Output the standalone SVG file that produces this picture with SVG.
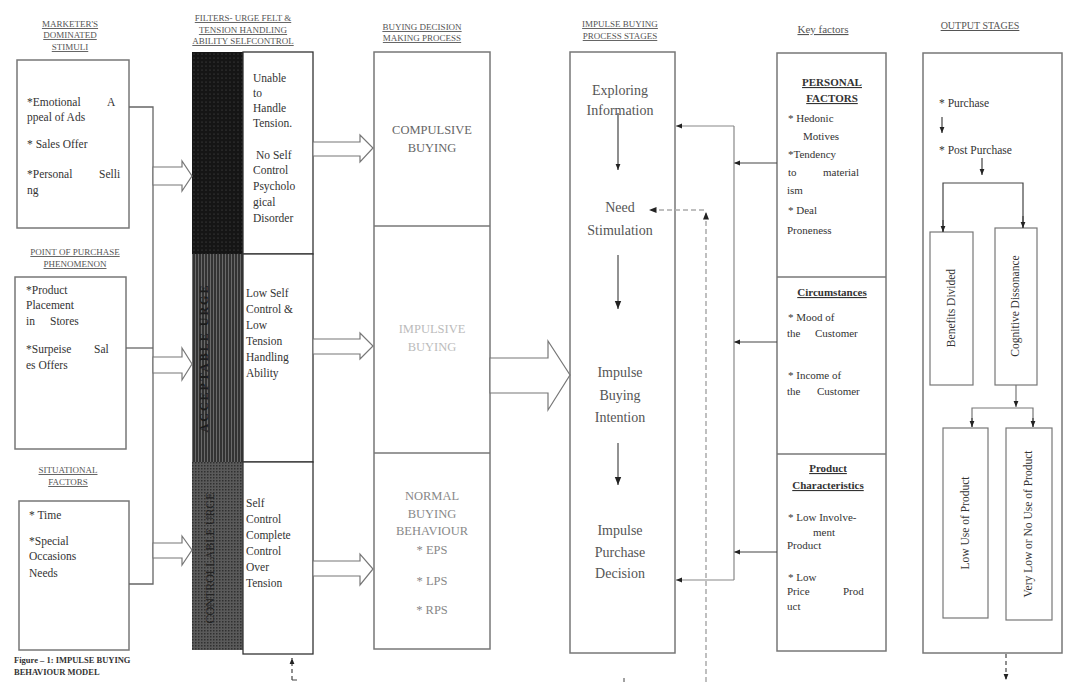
<svg xmlns="http://www.w3.org/2000/svg" width="1065" height="682" viewBox="0 0 1065 682">
<style>
text{font-family:"Liberation Serif","Times New Roman",serif;fill:#333}
.hd{font-size:9px;fill:#555;text-anchor:middle;text-decoration:underline}
.lt{font-size:11.5px}
.ft{font-size:11.5px;fill:#333}
.st{font-size:14px;fill:#555;text-anchor:middle}
.dc{font-size:12.5px;text-anchor:middle}
.kf{font-size:11px;fill:#333}
.kh{font-size:11px;font-weight:bold;text-anchor:middle;text-decoration:underline;fill:#333}
.box{fill:#fff;stroke:#777;stroke-width:1.5}
.wb{fill:#fff;stroke:#333;stroke-width:1.3}
.ln{fill:none;stroke:#666;stroke-width:1.3}
.ka{fill:none;stroke:#444;stroke-width:1.2}
.blk{fill:#fff;stroke:#777;stroke-width:1.2}
.dash{fill:none;stroke:#aaa;stroke-width:1.5;stroke-dasharray:5,3}
.rot{font-size:11.5px;text-anchor:middle;dominant-baseline:middle;fill:#333}
</style>
<defs>
<pattern id="pTop" width="4" height="4" patternUnits="userSpaceOnUse"><rect width="4" height="4" fill="#151515"/><circle cx="2" cy="2" r="0.6" fill="#555"/></pattern>
<pattern id="pMid" width="3" height="3" patternUnits="userSpaceOnUse"><rect width="3" height="3" fill="#333"/><rect width="1" height="3" fill="#6a6a6a"/></pattern>
<pattern id="pBot" width="3" height="3" patternUnits="userSpaceOnUse"><rect width="3" height="3" fill="#5a5a5a"/><rect width="1.5" height="1.5" fill="#303030"/></pattern>
<marker id="ah" viewBox="0 0 10 10" refX="10" refY="5" markerWidth="5" markerHeight="5" orient="auto"><path d="M0,1 L10,5 L0,9 z" fill="#222"/></marker>
</defs>
<rect width="1065" height="682" fill="#fff"/>

<g id="headers">
<text class="hd" x="70" y="27">MARKETER'S</text>
<text class="hd" x="70" y="38">DOMINATED</text>
<text class="hd" x="70" y="50">STIMULI</text>
<text class="hd" x="243" y="21">FILTERS- URGE FELT &amp;</text>
<text class="hd" x="243" y="33">TENSION HANDLING</text>
<text class="hd" x="243" y="44">ABILITY  SELFCONTROL</text>
<text class="hd" x="422" y="30">BUYING DECISION</text>
<text class="hd" x="422" y="41">MAKING PROCESS</text>
<text class="hd" x="620" y="27">IMPULSE BUYING</text>
<text class="hd" x="620" y="39">PROCESS STAGES</text>
<text class="hd" x="823" y="33" style="font-size:11px">Key factors</text>
<text class="hd" x="980" y="29" style="font-size:10px">OUTPUT STAGES</text>
</g>

<g id="marketer-stimuli">
<rect class="box" x="17" y="60" width="112" height="168"/>
<text class="lt"><tspan x="27" y="106">*Emotional</tspan><tspan x="107" y="106">A</tspan></text>
<text class="lt" x="27" y="121">ppeal of Ads</text>
<text class="lt" x="27" y="148">* Sales Offer</text>
<text class="lt"><tspan x="27" y="178">*Personal</tspan><tspan x="99" y="178">Selli</tspan></text>
<text class="lt" x="27" y="194">ng</text>
</g>

<g id="point-of-purchase">
<text class="hd" x="75" y="255">POINT OF PURCHASE</text>
<text class="hd" x="75" y="267">PHENOMENON</text>
<rect class="box" x="15" y="277" width="111" height="172"/>
<text class="lt" x="26" y="294">*Product</text>
<text class="lt" x="26" y="309">Placement</text>
<text class="lt"><tspan x="26" y="325">in</tspan><tspan x="50" y="325">Stores</tspan></text>
<text class="lt"><tspan x="26" y="353">*Surpeise</tspan><tspan x="94" y="353">Sal</tspan></text>
<text class="lt" x="26" y="369">es Offers</text>
</g>

<g id="situational">
<text class="hd" x="68" y="473">SITUATIONAL</text>
<text class="hd" x="68" y="485">FACTORS</text>
<rect class="box" x="19" y="501" width="110" height="149"/>
<text class="lt" x="29" y="519">* Time</text>
<text class="lt" x="29" y="545">*Special</text>
<text class="lt" x="29" y="560">Occasions</text>
<text class="lt" x="29" y="577">Needs</text>
</g>

<g id="caption">
<text x="14" y="663" style="font-size:8.5px;font-weight:bold;fill:#333">Figure – 1:  IMPULSE BUYING</text>
<text x="14" y="675" style="font-size:8.5px;font-weight:bold;fill:#333">BEHAVIOUR MODEL</text>
</g>

<g id="filters">
<rect x="192" y="52" width="51" height="202" fill="url(#pTop)"/>
<rect x="192" y="254" width="51" height="208" fill="url(#pMid)"/>
<rect x="192" y="462" width="51" height="188" fill="url(#pBot)"/>
<text class="rot" transform="translate(205,358) rotate(-90)" style="fill:#1c1c1c;font-size:12px;font-weight:bold;letter-spacing:2px">ACCEPTABLE URGE</text>
<text class="rot" transform="translate(211,558) rotate(-90)" style="fill:#222;font-size:12px">CONTROLLABLE URGE</text>
<rect class="wb" x="243" y="52" width="70" height="202"/>
<rect class="wb" x="243" y="254" width="70" height="208"/>
<rect class="wb" x="243" y="462" width="70" height="192"/>
<text class="ft" x="253" y="82">Unable</text>
<text class="ft" x="253" y="97">to</text>
<text class="ft" x="253" y="112">Handle</text>
<text class="ft" x="253" y="127">Tension.</text>
<text class="ft" x="256" y="159">No Self</text>
<text class="ft" x="253" y="174">Control</text>
<text class="ft" x="253" y="190">Psycholo</text>
<text class="ft" x="253" y="206">gical</text>
<text class="ft" x="253" y="222">Disorder</text>
<text class="ft" x="246" y="297">Low Self</text>
<text class="ft" x="246" y="313">Control &amp;</text>
<text class="ft" x="246" y="329">Low</text>
<text class="ft" x="246" y="345">Tension</text>
<text class="ft" x="246" y="361">Handling</text>
<text class="ft" x="246" y="377">Ability</text>
<text class="ft" x="246" y="507">Self</text>
<text class="ft" x="246" y="523">Control</text>
<text class="ft" x="246" y="539">Complete</text>
<text class="ft" x="246" y="555">Control</text>
<text class="ft" x="246" y="571">Over</text>
<text class="ft" x="246" y="587">Tension</text>
</g>

<g id="decision">
<rect class="box" x="374" y="52" width="116" height="597"/>
<line class="ln" x1="374" y1="226" x2="490" y2="226" style="stroke:#777"/>
<line class="ln" x1="374" y1="453" x2="490" y2="453" style="stroke:#777"/>
<text class="dc" x="432" y="134" style="fill:#666">COMPULSIVE</text>
<text class="dc" x="432" y="152" style="fill:#666">BUYING</text>
<text class="dc" x="432" y="333" style="fill:#bbb">IMPULSIVE</text>
<text class="dc" x="432" y="351" style="fill:#bbb">BUYING</text>
<text class="dc" x="432" y="500" style="fill:#888">NORMAL</text>
<text class="dc" x="432" y="518" style="fill:#888">BUYING</text>
<text class="dc" x="432" y="535" style="fill:#888">BEHAVIOUR</text>
<text class="dc" x="432" y="554" style="fill:#888">* EPS</text>
<text class="dc" x="432" y="585" style="fill:#888">* LPS</text>
<text class="dc" x="432" y="614" style="fill:#888">* RPS</text>
</g>

<g id="impulse-stages">
<rect class="box" x="570" y="52" width="105" height="601"/>
<text class="st" x="620" y="95">Exploring</text>
<text class="st" x="620" y="115">Information</text>
<text class="st" x="620" y="212">Need</text>
<text class="st" x="620" y="235">Stimulation</text>
<text class="st" x="620" y="377">Impulse</text>
<text class="st" x="620" y="400">Buying</text>
<text class="st" x="620" y="422">Intention</text>
<text class="st" x="620" y="535">Impulse</text>
<text class="st" x="620" y="557">Purchase</text>
<text class="st" x="620" y="578">Decision</text>
</g>

<g id="key-factors">
<rect class="box" x="777" y="53" width="109" height="598"/>
<line class="ln" x1="777" y1="277" x2="886" y2="277" style="stroke:#777"/>
<line class="ln" x1="777" y1="454" x2="886" y2="454" style="stroke:#777"/>
<text class="kh" x="832" y="86">PERSONAL</text>
<text class="kh" x="832" y="102">FACTORS</text>
<text class="kf" x="788" y="122">* Hedonic</text>
<text class="kf" x="803" y="140">Motives</text>
<text class="kf" x="788" y="158">*Tendency</text>
<text class="kf"><tspan x="788" y="176">to</tspan><tspan x="823" y="176">material</tspan></text>
<text class="kf" x="787" y="194">ism</text>
<text class="kf" x="788" y="214">* Deal</text>
<text class="kf" x="787" y="234">Proneness</text>
<text class="kh" x="832" y="296">Circumstances</text>
<text class="kf" x="788" y="321">* Mood of</text>
<text class="kf"><tspan x="787" y="337">the</tspan><tspan x="815" y="337">Customer</tspan></text>
<text class="kf" x="788" y="379">* Income of</text>
<text class="kf"><tspan x="787" y="395">the</tspan><tspan x="817" y="395">Customer</tspan></text>
<text class="kh" x="828" y="472">Product</text>
<text class="kh" x="828" y="489">Characteristics</text>
<text class="kf" x="788" y="521">* Low Involve-</text>
<text class="kf" x="813" y="536">ment</text>
<text class="kf" x="787" y="549">Product</text>
<text class="kf" x="788" y="581">* Low</text>
<text class="kf"><tspan x="787" y="595">Price</tspan><tspan x="843" y="595">Prod</tspan></text>
<text class="kf" x="787" y="610">uct</text>
</g>

<g id="output-stages">
<rect class="box" x="923" y="53" width="139" height="600"/>
<text class="kf" x="939" y="107" style="font-size:11.5px">* Purchase</text>
<text class="kf" x="939" y="154" style="font-size:11.5px">* Post Purchase</text>
<rect class="box" x="930" y="232" width="43" height="153" style="stroke-width:1.2"/>
<rect class="box" x="995" y="228" width="42" height="157" style="stroke-width:1.2"/>
<rect class="box" x="943" y="428" width="45" height="190" style="stroke-width:1.2"/>
<rect class="box" x="1006" y="428" width="46" height="192" style="stroke-width:1.2"/>
<text class="rot" transform="translate(952,308) rotate(-90)">Benefits Divided</text>
<text class="rot" transform="translate(1016,306) rotate(-90)">Cognitive Dissonance</text>
<text class="rot" transform="translate(966,523) rotate(-90)">Low Use of Product</text>
<text class="rot" transform="translate(1029,524) rotate(-90)">Very Low or No Use of Product</text>
</g>

<g id="connectors">
<polyline class="ln" points="129,107 153,107 153,584 129,584"/>
<line class="ln" x1="126" y1="348" x2="153" y2="348"/>
<polygon class="blk" points="153,167 182,167 182,161 192,176 182,191 182,185 153,185"/>
<polygon class="blk" points="153,357 182,357 182,348 192,364 182,380 182,373 153,373"/>
<polygon class="blk" points="153,543 182,543 182,536 192,550 182,565 182,558 153,558"/>
<polygon class="blk" points="313,142 360,142 360,135 373,148 360,162 360,156 313,156"/>
<polygon class="blk" points="313,339 360,339 360,333 373,346 360,359 360,354 313,354"/>
<polygon class="blk" points="313,561 360,561 360,554 373,569 360,585 360,576 313,576"/>
<polygon class="blk" points="490,358 548,358 548,341 570,375 548,410 548,393 490,393"/>
<line class="ka" x1="618" y1="113" x2="618" y2="170" marker-end="url(#ah)"/>
<line class="ka" x1="618" y1="255" x2="618" y2="309" marker-end="url(#ah)" style="stroke:#777;stroke-width:1.6"/>
<line class="ka" x1="618" y1="443" x2="618" y2="485" marker-end="url(#ah)" style="stroke:#777;stroke-width:1.6"/>
<line class="ka" x1="777" y1="163" x2="734" y2="163" marker-end="url(#ah)"/>
<line class="ka" x1="777" y1="342" x2="734" y2="342" marker-end="url(#ah)"/>
<line class="ka" x1="777" y1="552" x2="734" y2="552" marker-end="url(#ah)"/>
<polyline class="ka" points="734,126 734,580" style="stroke:#888"/>
<line class="ka" x1="734" y1="126" x2="676" y2="126" marker-end="url(#ah)" style="stroke:#888"/>
<line class="ka" x1="734" y1="580" x2="676" y2="580" marker-end="url(#ah)" style="stroke:#888"/>
<line class="dash" x1="706" y1="682" x2="706" y2="212" marker-end="url(#ah)"/>
<line class="dash" x1="704" y1="210" x2="649" y2="210" marker-end="url(#ah)"/>
<line x1="292" y1="680" x2="292" y2="658" style="stroke:#444;stroke-width:1.2;stroke-dasharray:4,3" marker-end="url(#ah)"/>
<line x1="292" y1="680" x2="297" y2="680" style="stroke:#444;stroke-width:1"/>
<line x1="624" y1="678" x2="624" y2="682" style="stroke:#444;stroke-width:1"/>
<line class="ka" x1="942" y1="117" x2="942" y2="133" marker-end="url(#ah)"/>
<line class="ka" x1="982" y1="158" x2="982" y2="175" marker-end="url(#ah)"/>
<polyline class="ka" points="943,232 943,183 1023,183 1023,228"/>
<line class="ka" x1="943" y1="220" x2="943" y2="232" marker-end="url(#ah)"/>
<line class="ka" x1="1023" y1="216" x2="1023" y2="228" marker-end="url(#ah)"/>
<line class="ka" x1="1016" y1="385" x2="1016" y2="407" marker-end="url(#ah)" style="stroke:#777"/>
<polyline class="ka" points="972,427 972,408 1033,408 1033,427" style="stroke:#777"/>
<line class="ka" x1="972" y1="418" x2="972" y2="427" marker-end="url(#ah)"/>
<line class="ka" x1="1033" y1="418" x2="1033" y2="427" marker-end="url(#ah)"/>
<line x1="1006" y1="654" x2="1006" y2="680" style="stroke:#444;stroke-width:1.2;stroke-dasharray:4,3" marker-end="url(#ah)"/>
</g>
</svg>
